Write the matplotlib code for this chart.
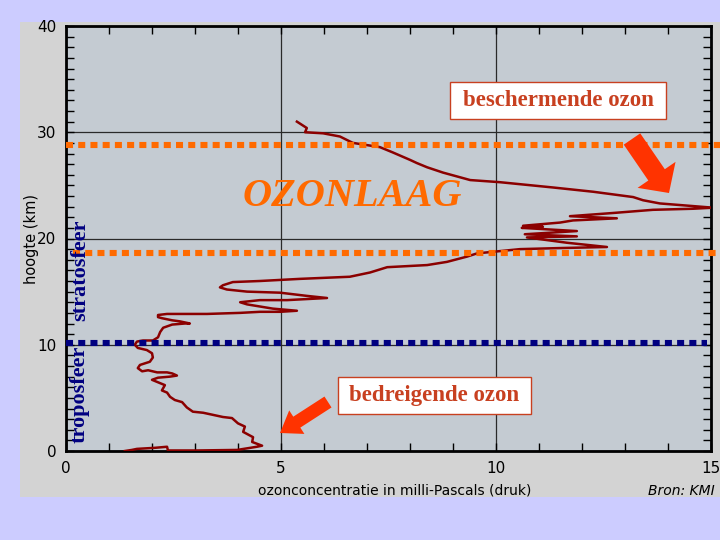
import matplotlib
matplotlib.use("Agg")
import matplotlib.pyplot as plt
from matplotlib.patches import Rectangle, FancyArrow

# ozone profile (mPa) against height (km)
ozone_mpa = [1.37, 1.53, 1.65, 2.07, 2.35, 2.37, 3.05, 3.98, 4.44, 4.56,
             4.33, 4.35, 4.12, 4.16, 4.00, 3.86, 3.65, 3.42, 3.19, 2.95,
             2.81, 2.70, 2.53, 2.42, 2.35, 2.23, 2.30, 2.12, 2.00, 2.14,
             2.42, 2.58, 2.47, 2.35, 2.12, 1.91, 1.77, 1.67, 1.72, 1.95,
             2.02, 2.00, 1.88, 1.67, 1.60, 1.65, 1.79, 2.02, 2.14, 2.19,
             2.26, 2.47, 2.77, 2.88, 2.65, 2.47, 2.23, 2.14, 2.14, 2.35,
             3.28, 4.05, 4.51, 4.98, 5.37, 4.81, 4.21, 4.05, 4.51, 5.14,
             6.07, 5.60, 4.98, 4.21, 3.74, 3.58, 3.65, 3.88, 4.51, 5.44,
             6.60, 7.07, 7.47, 8.40, 8.86, 9.33, 9.56, 10.56, 11.49, 12.58,
             11.65, 10.72, 11.88, 10.67, 11.88, 10.60, 11.09, 10.63, 11.49, 11.79,
             12.81, 11.72, 12.72, 13.65, 14.58, 15.05, 13.81, 13.42, 13.19, 12.26,
             11.33, 10.09, 9.40, 8.77, 8.40, 8.16, 8.00, 7.60, 7.30, 6.67,
             6.37, 5.98, 5.56, 5.60, 5.37]
height_km = [0.0, 0.1, 0.2, 0.3, 0.4, 0.05, 0.05, 0.1, 0.4, 0.5,
             0.85, 1.3, 1.8, 2.3, 2.6, 3.1, 3.2, 3.4, 3.6, 3.7,
             4.1, 4.6, 4.8, 5.1, 5.5, 5.7, 6.2, 6.5, 6.7, 6.9,
             7.0, 7.1, 7.3, 7.4, 7.4, 7.6, 7.5, 7.8, 8.1, 8.4,
             8.8, 9.2, 9.5, 9.7, 10.0, 10.3, 10.4, 10.4, 10.7, 11.2,
             11.6, 11.9, 12.0, 12.0, 12.2, 12.3, 12.5, 12.6, 12.8, 12.9,
             12.9, 13.0, 13.1, 13.1, 13.2, 13.4, 13.8, 14.0, 14.2, 14.2,
             14.4, 14.6, 14.9, 15.0, 15.2, 15.4, 15.6, 15.9, 16.0, 16.2,
             16.4, 16.8, 17.3, 17.5, 17.8, 18.3, 18.6, 19.0, 19.1, 19.2,
             19.6, 20.1, 20.2, 20.4, 20.7, 21.0, 21.1, 21.2, 21.5, 21.7,
             21.9, 22.1, 22.4, 22.7, 22.8, 22.9, 23.3, 23.6, 23.9, 24.4,
             24.8, 25.3, 25.5, 26.2, 26.7, 27.1, 27.4, 28.1, 28.6, 29.0,
             29.6, 29.9, 30.0, 30.4, 31.0]

# layer boundaries (km)
ozone_layer_top = 28.8
ozone_layer_bottom = 18.6
tropopause = 10.2

orange = '#FF6A00'
navy = '#000080'
red_text = '#C84020'
serif = 'Liberation Serif'

fig = plt.figure(figsize=(7.2, 5.4), dpi=100)
fig.patch.set_facecolor('#CCCCFF')

# light grey panel behind the chart
panel = Rectangle((20 / 720, 43 / 540), 700 / 720, 475 / 540, transform=fig.transFigure,
                  facecolor='#D3D3D3', edgecolor='none', zorder=-1)
fig.patches.append(panel)

ax = fig.add_axes([66 / 720, 89 / 540, 645 / 720, 425 / 540])
ax.set_facecolor('#C4CBD2')
ax.set_xlim(0, 15)
ax.set_ylim(0, 40)
ax.set_xticks([0, 5, 10, 15])
ax.set_xticks(range(16), minor=True)
ax.set_yticks([0, 10, 20, 30, 40])
ax.set_yticks(range(41), minor=True)
ax.tick_params(which='both', direction='in', top=True, right=True, length=5.5, width=1,
               labelsize=11, pad=7, colors='black')
ax.grid(True, which='major', color='#2a2a2a', lw=0.9)
for side in ax.spines.values():
    side.set_linewidth(2)

ax.plot(ozone_mpa, height_km, color='#8B0000', lw=1.8, zorder=3)

# dotted layer lines
dots = (0, (1.15, 0.85))
ax.plot([0, 15.2], [ozone_layer_top, ozone_layer_top], color=orange, lw=4.4,
        linestyle=dots, clip_on=False, zorder=4)
ax.plot([0.16, 15.2], [ozone_layer_bottom, ozone_layer_bottom], color=orange, lw=4.4,
        linestyle=dots, clip_on=False, zorder=4)
ax.plot([0, 14.9], [tropopause, tropopause], color=navy, lw=4.4,
        linestyle=dots, clip_on=False, zorder=4)

ax.set_xlabel('ozonconcentratie in milli-Pascals (druk)', fontsize=10)
ax.xaxis.set_label_coords(0.51, -0.094)
ax.xaxis.label.set_va('center')
ax.set_ylabel('hoogte (km)', fontsize=10.5)
ax.yaxis.set_label_coords(-0.054, 0.5)
ax.yaxis.label.set_va('center')
fig.text(715 / 720, 1 - 491 / 540, 'Bron: KMI', ha='right', va='center',
         fontsize=10, style='italic')

# overlay in pixel units for labels, boxes and arrows
lay = fig.add_axes([0, 0, 1, 1], zorder=5)
lay.set_xlim(0, 720)
lay.set_ylim(540, 0)
lay.axis('off')

lay.text(352, 197, 'OZONLAAG', color=orange, fontsize=29, family=serif,
         weight='bold', style='italic', ha='center', va='center')
lay.text(80, 394, 'troposfeer', color=navy, fontsize=16, family=serif,
         weight='bold', rotation=90, ha='center', va='center')
lay.text(80, 270, 'stratosfeer', color=navy, fontsize=16, family=serif,
         weight='bold', rotation=90, ha='center', va='center')

lay.add_patch(Rectangle((450, 82), 216, 37, facecolor='white', edgecolor=red_text, lw=1))
lay.text(558, 101, 'beschermende ozon', color=red_text, fontsize=16.5, family=serif,
         weight='bold', ha='center', va='center')
lay.add_patch(Rectangle((338, 377), 193, 37, facecolor='white', edgecolor=red_text, lw=1))
lay.text(434, 396, 'bedreigende ozon', color=red_text, fontsize=16.5, family=serif,
         weight='bold', ha='center', va='center')

lay.add_patch(FancyArrow(632, 139, 37, 54, width=20, head_width=46, head_length=22,
                         length_includes_head=True, color='#FF3300', lw=0))
lay.add_patch(FancyArrow(328, 402, -48, 31, width=13, head_width=28, head_length=20,
                         length_includes_head=True, color='#FF3300', lw=0))

fig.savefig('out.png', dpi=100)
